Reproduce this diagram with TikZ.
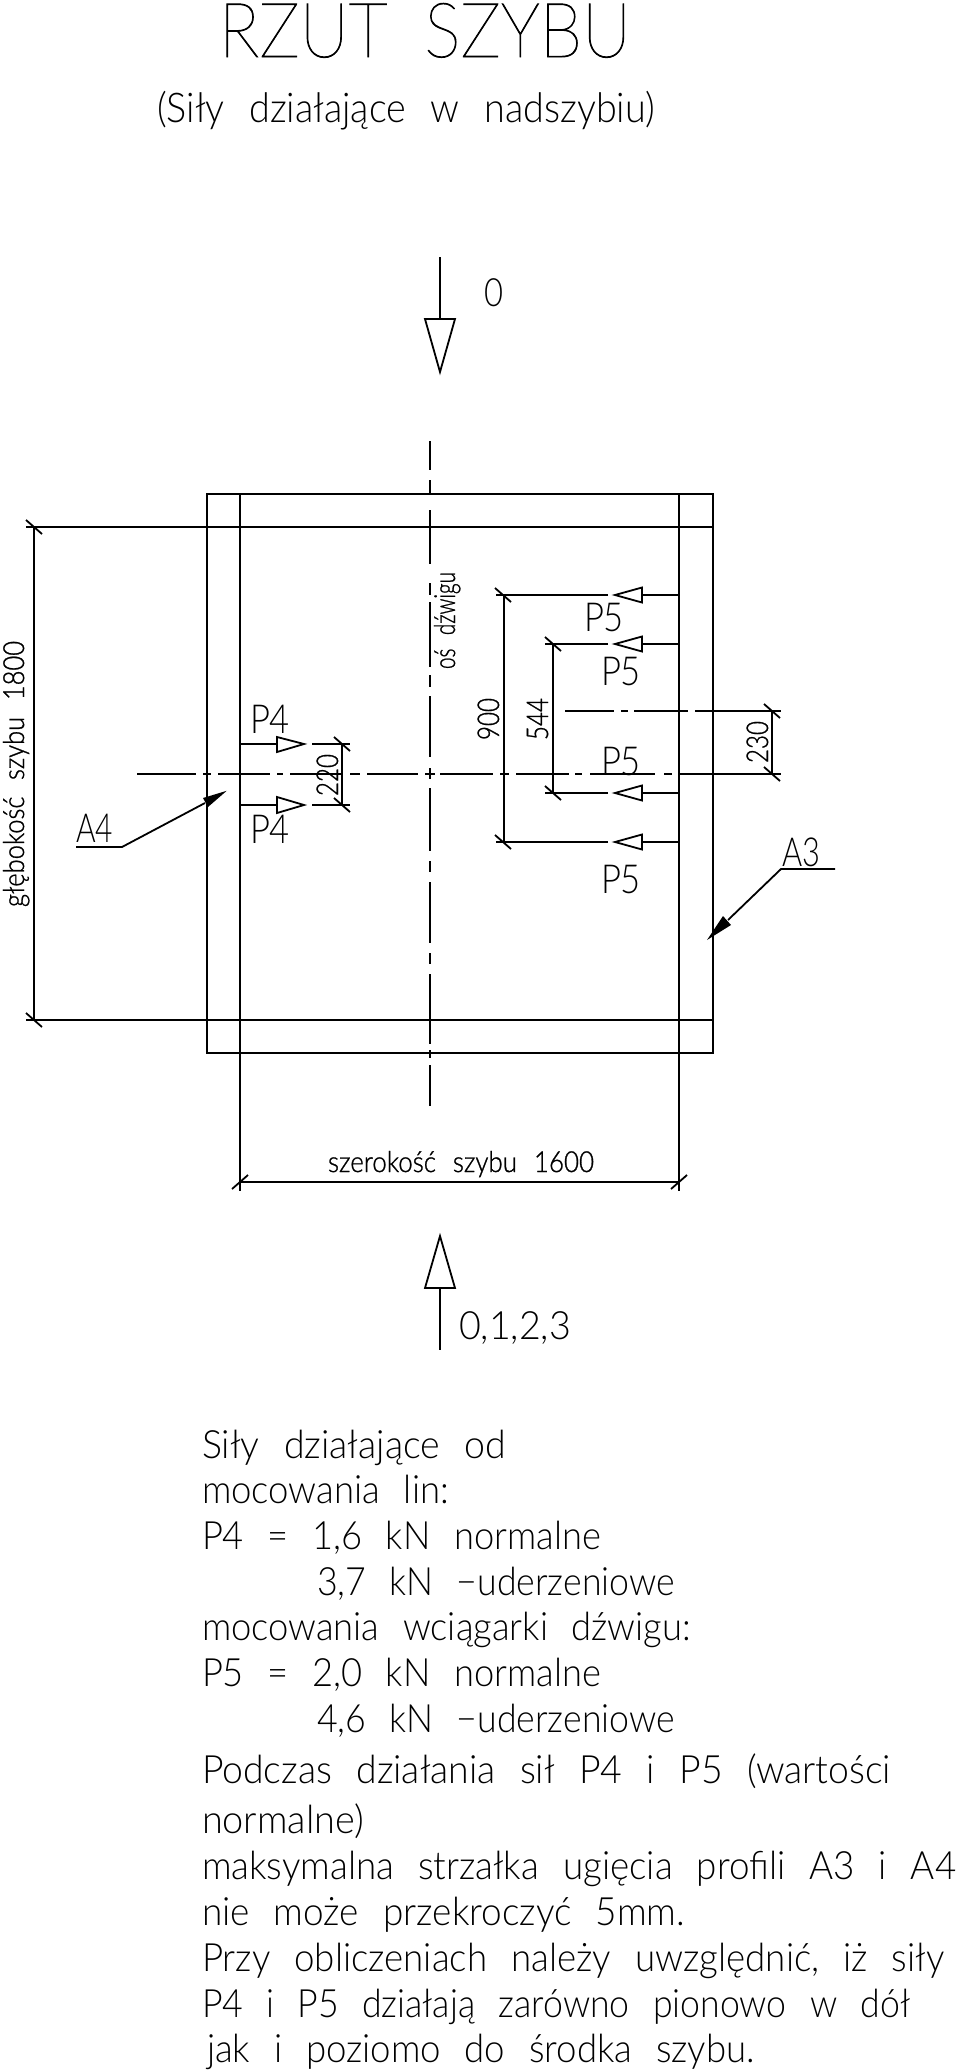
\documentclass[tikz,border=0pt]{standalone}
\usepackage{graphicx}
\usepackage{fontspec}
\setmainfont[WordSpace=2.4]{Lato Light}
\newfontfamily\cadreg[WordSpace=2.4,FakeBold=1]{Lato Light}
\newfontfamily\cadthin[WordSpace=1.9,FakeBold=1.2]{Lato Thin}
\newcommand{\cadt}[3]{\resizebox{#2pt}{\height}{\fontsize{#1pt}{#1pt}\selectfont #3}}
\newcommand{\cads}[3]{\resizebox{#2pt}{\height}{\cadreg\fontsize{#1pt}{#1pt}\selectfont #3}}
\newcommand{\cadh}[3]{\resizebox{#2pt}{\height}{\cadthin\fontsize{#1pt}{#1pt}\selectfont #3}}
\tikzset{
  ln/.style={line width=1.8pt,black,line cap=butt},
  txt/.style={inner sep=0pt,outer sep=0pt,anchor=base west,black},
  rtxt/.style={inner sep=0pt,outer sep=0pt,anchor=base west,rotate=90,black},
}
% tick marks: \tickb = back slash, \tickf = forward slash
\newcommand{\tickb}[2]{\draw[ln] (#1-8,#2-7) -- (#1+8,#2+7);}
\newcommand{\tickf}[2]{\draw[ln] (#1-8,#2+7) -- (#1+8,#2-7);}
\newcommand{\hollow}[6]{\draw[ln,line join=miter] (#1,#2) -- (#3,#4) -- (#5,#6) -- cycle;}
\begin{document}
\begin{tikzpicture}[x=1pt,y=-1pt]
\useasboundingbox (0,0) rectangle (960,2072);
\fill[white] (0,0) rectangle (960,2072);
% titles
\node[txt] (title) at (219,57) {\cadh{76}{412}{RZUT SZYBU}};
\node[txt] (sub) at (157,122) {\cadt{41}{498}{(Siły działające w nadszybiu)}};
% frame
\draw[ln] (207,494) rectangle (713,1053);
\draw[ln] (26,527) -- (713,527);
\draw[ln] (26,1020) -- (713,1020);
\draw[ln] (240,494) -- (240,1191);
\draw[ln] (679,494) -- (679,1191);
% vertical axis
\foreach \a/\b in {441/470,480/495,510/564,583/595,602/667,675/687,696/757,768/779,788/851,861/872,882/943,953/964,974/1044,1050/1058,1065/1106}
  \draw[ln] (430,\a) -- (430,\b);
\draw[ln] (425,774) -- (435,774);
% horizontal axis
\foreach \a/\b in {137/196,203/211,218/270,277/283,290/343,350/360,367/418,440/493,500/509,516/569,575/582,590/655,664/672,679/781}
  \draw[ln] (\a,774) -- (\b,774);
\foreach \a/\b in {565/614,621/628,634/688,695/781}
  \draw[ln] (\a,711) -- (\b,711);
% top arrow 0
\draw[ln] (440,257) -- (440,319);
\hollow{425}{319}{455}{319}{440}{372}
\node[txt] (zero) at (484,306) {\cadt{39}{19}{0}};
% bottom arrow
\draw[ln] (440,1288) -- (440,1350);
\hollow{425}{1288}{455}{1288}{440}{1236}
\node[txt] (dirs) at (459,1339) {\cadt{39}{112}{0,1,2,3}};
% depth dimension
\draw[ln] (34,527) -- (34,1020);
\tickb{34}{527}\tickb{34}{1020}
\node[rtxt] (depth) at (24,907) {\cads{29}{266}{głębokość szybu 1800}};
% width dimension
\draw[ln] (240,1182) -- (679,1182);
\tickf{240}{1182}\tickf{679}{1182}
\node[txt] (wid) at (328,1172) {\cads{29}{266}{szerokość szybu 1600}};
% axis label
\node[rtxt] (os) at (455,669) {\cads{29}{97}{oś dźwigu}};
% P4
\draw[ln] (240,744) -- (277,744);
\hollow{277}{737}{277}{752}{304}{744}
\draw[ln] (312,744) -- (350,744);
\draw[ln] (240,805) -- (277,805);
\hollow{277}{797}{277}{813}{304}{805}
\draw[ln] (312,805) -- (350,805);
\draw[ln] (342,744) -- (342,805);
\tickb{342}{744}\tickb{342}{805}
\node[rtxt] (d220) at (338,796) {\cads{30}{42}{220}};
\node[txt] (p4a) at (250,733) {\cadt{40}{40}{P4}};
\node[txt] (p4b) at (250,843) {\cadt{40}{40}{P4}};
% P5
\foreach \y/\xe in {595/496,644/545,793/545,842/496}{
  \draw[ln] (679,\y) -- (642,\y);
  \hollow{642}{\y-7.5}{642}{\y+7.5}{615}{\y}
  \draw[ln] (608,\y) -- (\xe,\y);
}
\draw[ln] (504,595) -- (504,842);
\draw[ln] (553,644) -- (553,793);
\tickb{503}{595}\tickb{503}{842}\tickb{553}{644}\tickb{553}{793}
\draw[ln] (772,711) -- (772,774);
\tickb{772}{711}\tickb{772}{774}
\node[rtxt] (d900) at (499,740) {\cads{30}{42}{900}};
\node[rtxt] (d544) at (548,740) {\cads{30}{42}{544}};
\node[rtxt] (d230) at (768,763) {\cads{30}{42}{230}};
\node[txt] (p5a) at (584,631) {\cadt{40}{40}{P5}};
\node[txt] (p5b) at (601,685) {\cadt{40}{40}{P5}};
\node[txt] (p5c) at (601,775) {\cadt{40}{40}{P5}};
\node[txt] (p5d) at (601,893) {\cadt{40}{40}{P5}};
% A4
\node[txt] (a4) at (76,842) {\cadt{40}{37}{A4}};
\draw[ln] (76,847) -- (122,847) -- (205,803);
\fill (226.7,790.8) -- (203,798) -- (208,807) -- cycle;
% A3
\node[txt] (a3) at (782,866) {\cadt{40}{38}{A3}};
\draw[ln] (835,869) -- (781,869) -- (728,920);
\fill (707,940) -- (723,916) -- (731,925) -- cycle;
% body text
\node[txt] (t1) at (202,1458) {\cadt{39}{304}{Siły działające od}};
\node[txt] (t2) at (202,1503) {\cadt{39}{247}{mocowania lin:}};
\node[txt] (t3) at (202,1549) {\cadt{39}{399}{P4 = 1,6 kN normalne}};
\node[txt] (t4) at (317,1595) {\cadt{39}{358}{3,7 kN −uderzeniowe}};
\node[txt] (t5) at (202,1640) {\cadt{39}{489}{mocowania wciągarki dźwigu:}};
\node[txt] (t6) at (202,1686) {\cadt{39}{399}{P5 = 2,0 kN normalne}};
\node[txt] (t7) at (317,1732) {\cadt{39}{358}{4,6 kN −uderzeniowe}};
\node[txt] (t8) at (202,1783) {\cadt{39}{689}{Podczas działania sił P4 i P5 (wartości}};
\node[txt] (t9) at (202,1833) {\cadt{39}{162}{normalne)}};
\node[txt] (t10) at (202,1879) {\cadt{39}{754}{maksymalna strzałka ugięcia profili A3 i A4}};
\node[txt] (t11) at (202,1925) {\cadt{39}{483}{nie może przekroczyć 5mm.}};
\node[txt] (t12) at (202,1971) {\cadt{39}{742}{Przy obliczeniach należy uwzględnić, iż siły}};
\node[txt] (t13) at (202,2017) {\cadt{39}{708}{P4 i P5 działają zarówno pionowo w dół}};
\node[txt] (t14) at (207,2062) {\cadt{39}{548}{jak i poziomo do środka szybu.}};
\end{tikzpicture}
\end{document}
